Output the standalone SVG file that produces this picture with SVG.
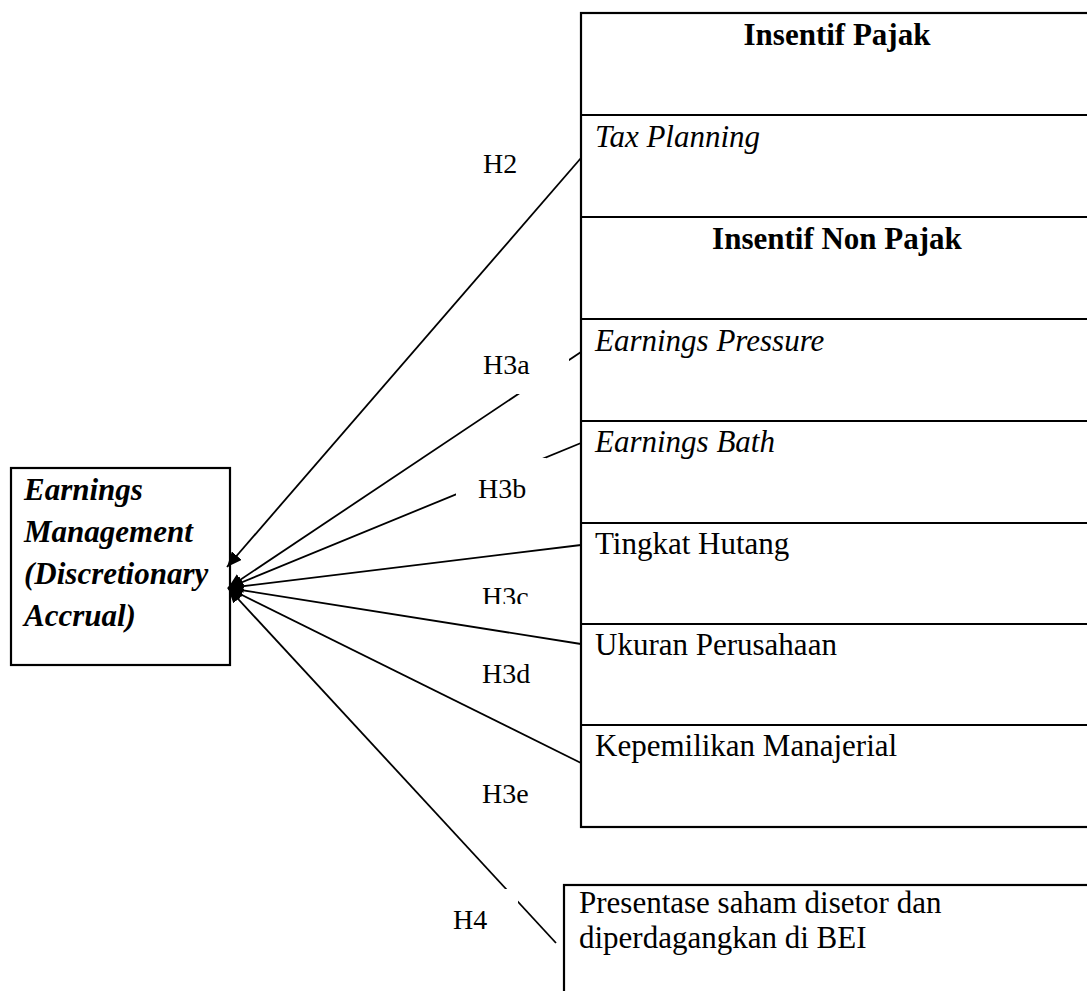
<svg xmlns="http://www.w3.org/2000/svg" width="1087" height="991" viewBox="0 0 1087 991">
<style>
  .box{fill:#fff;stroke:#000;stroke-width:2.2}
  .sep{stroke:#000;stroke-width:2.2}
  .t{font-family:"Liberation Serif","Times New Roman",serif;font-size:31px;fill:#000}
  .b{font-weight:bold}
  .i{font-style:italic}
  .lbl{font-family:"Liberation Serif","Times New Roman",serif;font-size:28px;fill:#000}
  .lb{fill:#fff;stroke:none}
  .c{stroke:#000;stroke-width:1.8;fill:none;marker-end:url(#ah)}
</style>
<defs>
  <marker id="ah" markerUnits="userSpaceOnUse" markerWidth="16" markerHeight="13" refX="15" refY="6.5" orient="auto">
    <path d="M0,0 L15,6.5 L0,13 z" fill="#000"/>
  </marker>
  <clipPath id="clipH3c"><rect x="440" y="570" width="120" height="34"/></clipPath>
</defs>
<rect width="1087" height="991" fill="#fff"/>

<g id="node-em">
  <rect class="box" x="11" y="468" width="219" height="197"/>
  <text class="t b i" x="24" y="500">Earnings</text>
  <text class="t b i" x="24" y="542">Management</text>
  <text class="t b i" x="24" y="584">(Discretionary</text>
  <text class="t b i" x="24" y="626">Accrual)</text>
</g>

<g id="node-table">
  <rect class="box" x="581" y="13" width="520" height="814"/>
  <line class="sep" x1="581" y1="115" x2="1100" y2="115"/>
  <line class="sep" x1="581" y1="217" x2="1100" y2="217"/>
  <line class="sep" x1="581" y1="319" x2="1100" y2="319"/>
  <line class="sep" x1="581" y1="421" x2="1100" y2="421"/>
  <line class="sep" x1="581" y1="523" x2="1100" y2="523"/>
  <line class="sep" x1="581" y1="624" x2="1100" y2="624"/>
  <line class="sep" x1="581" y1="725" x2="1100" y2="725"/>
  <text class="t b" x="837" y="45" text-anchor="middle">Insentif Pajak</text>
  <text class="t i" x="595" y="147">Tax Planning</text>
  <text class="t b" x="837" y="249" text-anchor="middle">Insentif Non Pajak</text>
  <text class="t i" x="595" y="351">Earnings Pressure</text>
  <text class="t i" x="595" y="452">Earnings Bath</text>
  <text class="t" x="595" y="554">Tingkat Hutang</text>
  <text class="t" x="595" y="655">Ukuran Perusahaan</text>
  <text class="t" x="595" y="756">Kepemilikan Manajerial</text>
</g>

<g id="node-bei">
  <rect class="box" x="564" y="885" width="540" height="120"/>
  <text class="t" x="579" y="913">Presentase saham disetor dan</text>
  <text class="t" x="579" y="948">diperdagangkan di BEI</text>
</g>

<g id="connectors">
  <line class="c" x1="581" y1="158" x2="227" y2="567"/>
  <line class="c" x1="581" y1="352" x2="228" y2="588"/>
  <line class="c" x1="581" y1="443" x2="228" y2="588"/>
  <line class="c" x1="581" y1="545" x2="228" y2="588"/>
  <line class="c" x1="581" y1="644" x2="228" y2="588"/>
  <line class="c" x1="581" y1="763" x2="228" y2="588"/>
  <line class="c" x1="556" y1="943" x2="228" y2="588"/>
</g>

<g id="labels">
  <g id="lbl-h2"><text class="lbl" x="483" y="173">H2</text></g>
  <g id="lbl-h3a"><rect class="lb" x="462" y="334" width="107" height="60"/><text class="lbl" x="483" y="374">H3a</text></g>
  <g id="lbl-h3b"><rect class="lb" x="456" y="458" width="90" height="55"/><text class="lbl" x="478" y="498">H3b</text></g>
  <g id="lbl-h3c"><text class="lbl" x="482" y="606" clip-path="url(#clipH3c)">H3c</text></g>
  <g id="lbl-h3d"><text class="lbl" x="482" y="683">H3d</text></g>
  <g id="lbl-h3e"><text class="lbl" x="482" y="803">H3e</text></g>
  <g id="lbl-h4"><rect class="lb" x="430" y="889" width="88" height="55"/><text class="lbl" x="453" y="929">H4</text></g>
</g>
</svg>
